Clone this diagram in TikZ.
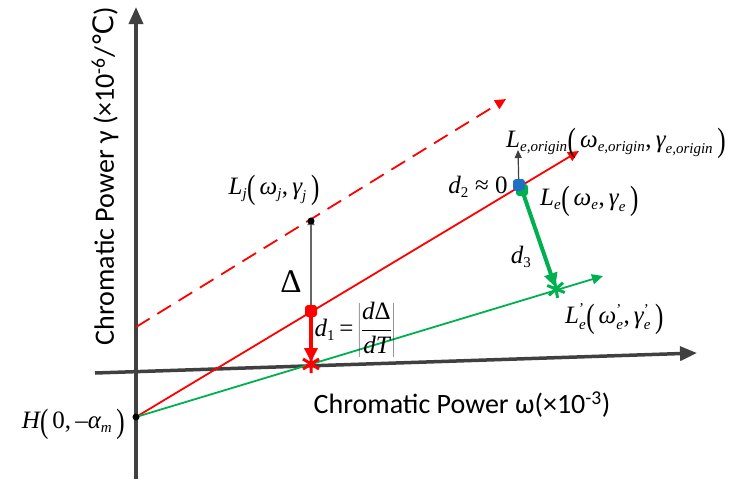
\documentclass[tikz,border=0pt]{standalone}
\usepackage{fontspec}
\usepackage{graphicx}
\setmainfont{Liberation Serif}
\newfontfamily\axfont{Carlito}
\newfontfamily\dvfont{DejaVu Sans}
\usetikzlibrary{arrows.meta}
\definecolor{axgray}{HTML}{404040}
\definecolor{rd}{HTML}{FF0000}
\definecolor{gn}{HTML}{00B050}
\definecolor{bl}{HTML}{1F6FC4}
\newcommand\ti[1]{\mbox{\itshape #1}}
\newcommand\tr[1]{\mbox{#1}}
\newcommand\ts[1]{\mbox{\fontsize{15}{15}\selectfont\itshape #1}}
\newcommand\tn[1]{\mbox{\fontsize{15}{15}\selectfont #1}}
\newcommand\lp{\mbox{\raisebox{-0.14em}{\scalebox{1}[1.35]{(}}}\,}
\newcommand\rp{\,\mbox{\raisebox{-0.14em}{\scalebox{1}[1.35]{)}}}}
\newcommand\cm{\tr{,}\,}
\tikzset{
  axis/.style={line width=3.5pt,color=axgray,-{Triangle[length=17pt,width=14pt]}},
  redline/.style={line width=1.8pt,color=rd,-{Triangle[length=11pt,width=10pt]}},
  greenline/.style={line width=1.8pt,color=gn,-{Triangle[length=11pt,width=10pt]}},
  thickarrow/.style={line width=4pt,-{Triangle[length=14pt,width=13pt]},shorten >=2pt},
  thinarrow/.style={line width=1.2pt,color=axgray,-{Triangle[length=8pt,width=7pt]}},
  dotsq/.style={rectangle,rounded corners=3pt,minimum size=12pt,inner sep=0pt},
  blackdot/.style={circle,fill=black,minimum size=7pt,inner sep=0pt},
  mlabel/.style={font=\fontsize{25}{29}\selectfont,inner sep=0pt},
  axlabel/.style={font=\axfont\fontsize{28}{32}\selectfont,inner sep=0pt},
  astx/.pic={\draw[line width=3pt,line cap=butt] (0,-9)--(0,9) (-8,-5)--(8,5) (-8,5)--(8,-5);}
}
\begin{document}
\begin{tikzpicture}[x=1pt,y=-1pt]
\useasboundingbox (0,0) rectangle (735,479);
% coordinates
\coordinate (ybot) at (136,479);
\coordinate (ytop) at (136,7);
\coordinate (xl) at (95,373);
\coordinate (xr) at (697,353);
\coordinate (H) at (136,417);
\coordinate (Rend) at (579,151);
\coordinate (Dstart) at (136,327);
\coordinate (Dend) at (506,99);
\coordinate (Gend) at (603,276);
\coordinate (R1) at (311,311);
\coordinate (S1) at (311,364);
\coordinate (J) at (311,221);
\coordinate (B) at (519,185);
\coordinate (G1) at (522,190);
\coordinate (S2) at (556,289);
\coordinate (U) at (518,150);
% axes
\draw[axis] (ybot) -- (ytop);
\draw[axis] (xl) -- (xr);
% lines
\draw[redline,dash pattern=on 16pt off 9pt] (Dstart) -- (Dend);
\draw[redline] (H) -- (Rend);
\draw[greenline] (H) -- (Gend);
% thin arrows
\draw[thinarrow,color=axgray!80] (R1) -- ([yshift=4pt]J);
\draw[thinarrow] ([yshift=-8pt]B) -- (U);
% points
\node[blackdot] (jdot) at (J) {};
\node[blackdot] (hdot) at (H) {};
\node[dotsq,fill=gn] (gdot) at (G1) {};
\node[dotsq,fill=bl] (bdot) at (B) {};
\draw[thickarrow,color=rd] (R1) -- (S1);
\draw[thickarrow,color=gn] (G1) -- (S2);
\node[dotsq,fill=rd] (rdot) at (R1) {};
\pic[color=rd] at (S1) {astx};
\pic[color=gn,rotate=10] at (S2) {astx};
% labels
\node[axlabel,rotate=90] (ylab) at (105,176) {Chromatic Power γ (×10\textsuperscript{-6}/{\dvfont ℃})};
\node[axlabel] (xlab) at (462,405) {Chromatic Power ω(×10\textsuperscript{-3})};
\node[mlabel,anchor=east] (hlab) at (125,424) {$\ti{H}\lp\tr{0,}\,\tr{–}\ti{α}_{\ts{m}}\rp$};
\node[mlabel] (ljlab) at (274,190) {$\ti{L}_{\ts{j}}\lp\ti{ω}_{\ts{j}}\cm\ti{γ}_{\ts{j}}\rp$};
\node[inner sep=0pt] (dlt) at (291,282) {\fontsize{33}{36}\selectfont Δ};
\node[mlabel] (d1lab) at (355,330) {$\ti{d}_{\tn{1}}\,\tr{=}\left|\displaystyle\frac{\ti{d}\tr{Δ}}{\ti{dT}}\right|$};
\node[mlabel] (d2lab) at (478,187) {$\ti{d}_{\tn{2}}\tr{ ≈ 0}$};
\node[mlabel,anchor=west] (lolab) at (506,143) {$\ti{L}_{\ts{e,origin}}\lp\ti{ω}_{\ts{e,origin}}\cm\ti{γ}_{\ts{e,origin}}\rp$};
\node[mlabel,anchor=west] (lelab) at (540,201) {$\ti{L}_{\ts{e}}\lp\ti{ω}_{\ts{e}}\cm\ti{γ}_{\ts{e}}\rp$};
\node[mlabel] (d3lab) at (521,257) {$\ti{d}_{\tn{3}}$};
\node[mlabel,anchor=west] (lplab) at (565,319) {$\ti{L}^{\tn{'}}_{\ts{e}}\lp\ti{ω}^{\tn{'}}_{\ts{e}}\cm\ti{γ}^{\tn{'}}_{\ts{e}}\rp$};
\end{tikzpicture}
\end{document}
